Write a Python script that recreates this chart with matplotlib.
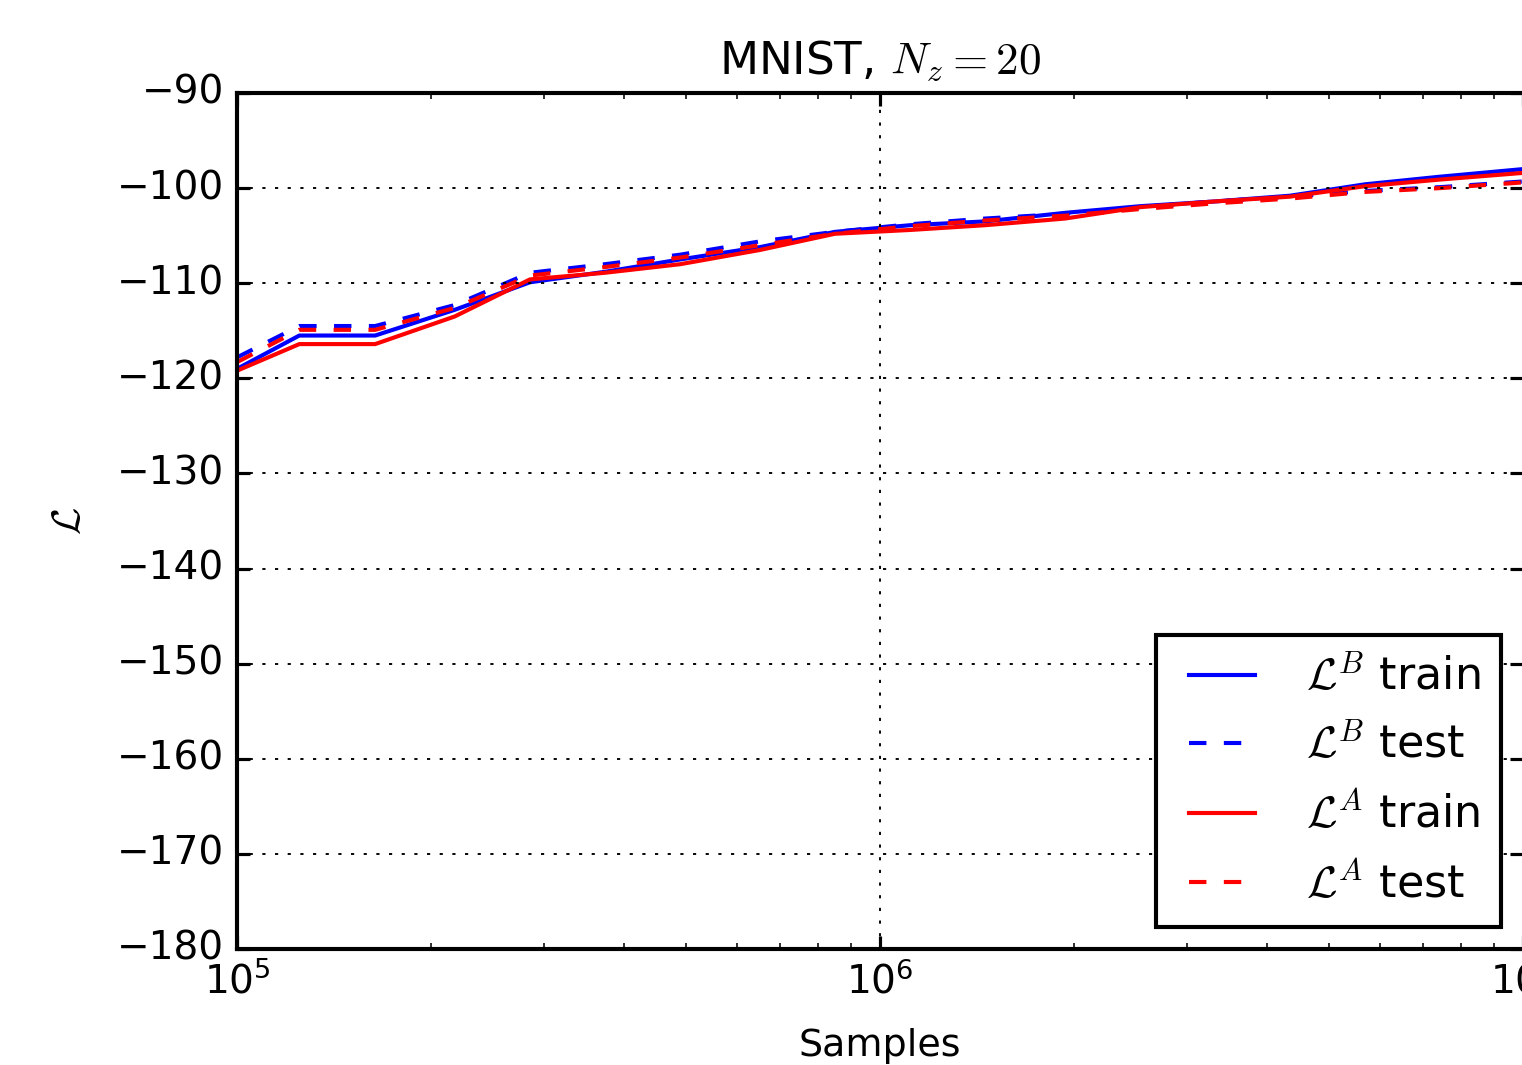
import matplotlib
matplotlib.use("Agg")
import matplotlib.pyplot as plt
import numpy as np

plt.style.use("classic")
plt.rcParams["figure.facecolor"] = "white"
plt.rcParams["savefig.facecolor"] = "white"
plt.rcParams["font.family"] = ["DejaVu Sans"]
plt.rcParams["mathtext.fontset"] = "cm"
plt.rcParams["axes.linewidth"] = 1.3

samples = [1.0e5, 1.25e5, 1.64e5, 2.18e5, 2.855e5, 3.735e5, 4.89e5, 6.51e5, 8.51e5,
           1.114e6, 1.457e6, 1.94e6, 2.54e6, 3.32e6, 4.34e6, 5.68e6, 7.43e6, 1.0e7]

lb_train = [-119.0, -115.5, -115.5, -112.8, -109.9, -108.8, -107.5, -106.2, -104.6,
            -103.9, -103.5, -102.6, -101.9, -101.4, -100.8, -99.6, -98.8, -98.0]
lb_test = [-117.8, -114.5, -114.5, -112.3, -108.9, -108.0, -107.0, -105.6, -104.6,
           -103.8, -103.2, -102.7, -102.0, -101.4, -100.9, -100.3, -99.9, -99.3]
la_train = [-119.2, -116.4, -116.4, -113.5, -109.6, -108.9, -108.0, -106.5, -104.8,
            -104.4, -103.9, -103.2, -102.0, -101.4, -100.9, -99.8, -99.1, -98.4]
la_test = [-118.3, -114.9, -114.9, -112.6, -109.2, -108.3, -107.3, -106.0, -104.8,
           -104.0, -103.4, -102.9, -102.2, -101.6, -101.1, -100.4, -100.0, -99.4]

labels = [r"$\mathcal{L}^B$ train", r"$\mathcal{L}^B$ test",
          r"$\mathcal{L}^A$ train", r"$\mathcal{L}^A$ test"]

dpi = 228
fig = plt.figure(figsize=(1522 / dpi, 1065 / dpi), dpi=dpi)
ax = fig.add_axes([237 / 1522, 116 / 1065, 1286 / 1522, 856 / 1065])

lw = 1.3
ax.plot(samples, lb_train, color="blue", lw=lw, label=labels[0])
ax.plot(samples, lb_test, color="blue", lw=lw, dashes=(5.5, 5.5), label=labels[1])
ax.plot(samples, la_train, color="red", lw=lw, label=labels[2])
ax.plot(samples, la_test, color="red", lw=lw, dashes=(5.5, 5.5), label=labels[3])

ax.set_xscale("log")
ax.set_xlim(1e5, 1e7)
ax.set_ylim(-180, -90)
ax.set_yticks(np.arange(-180, -89, 10))
ax.grid(True, color="black", linestyle=":", linewidth=0.6)
ax.tick_params(labelsize=12.3, width=1.0)
ax.set_xlabel("Samples", fontsize=12, labelpad=8.5)
ax.set_ylabel(r"$\mathcal{L}$", fontsize=12.5, labelpad=9)
ax.set_title(r"MNIST, $N_z=20$", fontsize=14.3, y=1.003)

leg = ax.legend(loc="lower right", fontsize=14, handlelength=2.1, handletextpad=0.85,
                labelspacing=0.55, borderpad=0.45, numpoints=2, fancybox=False,
                borderaxespad=0.5)
leg.get_frame().set_edgecolor("black")
leg.get_frame().set_linewidth(1.3)

fig.savefig("out.png", dpi=dpi)
